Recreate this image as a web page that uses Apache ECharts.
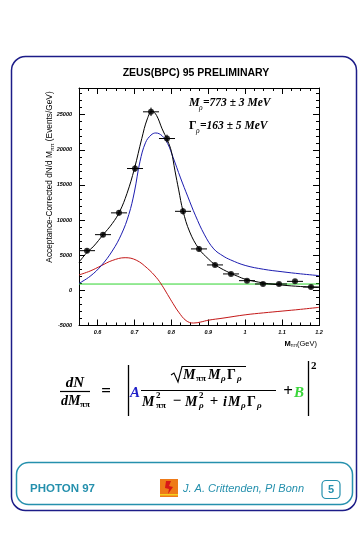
<!DOCTYPE html>
<html>
<head>
<meta charset="utf-8">
<script src="https://cdn.jsdelivr.net/npm/echarts@6.0.0/dist/echarts.min.js"></script>
<style>
html,body{margin:0;padding:0;background:#fff;}
#chart{width:363px;height:535px;}
</style>
</head>
<body>
<div id="chart"></div>
<script>
// ---------------- data ----------------
const massBins = [0.5717, 0.615, 0.6583, 0.7017, 0.745, 0.7883, 0.8317, 0.875, 0.9183, 0.9617, 1.005, 1.0483, 1.0917, 1.135, 1.1783];
const counts   = [5650, 7930, 11030, 17340, 25410, 21610, 11250, 5900, 3620, 2340, 1380, 910, 910, 1280, 480];
const countErr = [300, 350, 400, 500, 600, 550, 450, 350, 300, 250, 250, 250, 250, 250, 250];
const massErr  = [0.0217, 0.0217, 0.0217, 0.0217, 0.0217, 0.0217, 0.0217, 0.0217, 0.0217, 0.0217, 0.0217, 0.0217, 0.0217, 0.0217, 0.0217];

const fitMass  = [0.55, 0.57, 0.59, 0.615, 0.64, 0.66, 0.68, 0.70, 0.72, 0.735, 0.748, 0.76, 0.775, 0.79, 0.80, 0.81, 0.82, 0.8317, 0.85, 0.875, 0.90, 0.92, 0.95, 0.98, 1.00, 1.05, 1.10, 1.15, 1.20];
const fitTotal = [4000, 5300, 6300, 7900, 9500, 11200, 13800, 17300, 21600, 24400, 25500, 24900, 23000, 21300, 19800, 17000, 14300, 11300, 8300, 5900, 4500, 3600, 2700, 2000, 1600, 1050, 750, 550, 400];

const bwMass   = [0.55, 0.58, 0.61, 0.64, 0.665, 0.685, 0.70, 0.715, 0.73, 0.745, 0.758, 0.775, 0.79, 0.805, 0.825, 0.845, 0.865, 0.89, 0.915, 0.94, 0.96, 1.00, 1.05, 1.10, 1.15, 1.20];
const bwValues = [1000, 2000, 3500, 5600, 8000, 10800, 14000, 18300, 21000, 22100, 22400, 22000, 20900, 18900, 16000, 13300, 10700, 7900, 5900, 4900, 4350, 3550, 3000, 2650, 2350, 2100];

const intMass   = [0.55, 0.58, 0.61, 0.64, 0.675, 0.705, 0.735, 0.76, 0.775, 0.79, 0.805, 0.82, 0.84, 0.86, 0.88, 0.90, 0.94, 1.00, 1.05, 1.10, 1.15, 1.20];
const intValues = [2200, 2750, 3500, 4250, 4650, 4300, 3150, 1800, 700, -600, -1900, -3100, -4300, -4650, -4500, -4250, -3950, -3480, -3200, -2950, -2700, -2420];

const bgMass   = [0.55, 1.20];
const bgValues = [900, 900];

const xMajor = [0.6, 0.7, 0.8, 0.9, 1.0, 1.1, 1.2];
const xMinor = [0.55, 0.575, 0.625, 0.65, 0.675, 0.725, 0.75, 0.775, 0.825, 0.85, 0.875, 0.925, 0.95, 0.975, 1.025, 1.05, 1.075, 1.125, 1.15, 1.175];
const yMajor = [-5000, 0, 5000, 10000, 15000, 20000, 25000];
const yMinor = [-4000, -3000, -2000, -1000, 1000, 2000, 3000, 4000, 6000, 7000, 8000, 9000, 11000, 12000, 13000, 14000, 16000, 17000, 18000, 19000, 21000, 22000, 23000, 24000, 26000, 27000, 28000];

const X_MIN = 0.55, X_MAX = 1.2, Y_MIN = -5000, Y_MAX = 28800;

// ---------------- chart ----------------
const chart = echarts.init(document.getElementById('chart'), null, {renderer: 'canvas'});
const pair = (a, b) => a.map((v, i) => [v, b[i]]);

const tickLabel = {fontSize: 5.5, fontWeight: 'bold', fontStyle: 'italic', color: '#000', fontFamily: 'Liberation Sans'};
function xAx(pos, vals, len, line, label) {
  return {
    type: 'value', gridIndex: 0, position: pos, min: X_MIN, max: X_MAX,
    axisLine: {show: line, onZero: false, lineStyle: {color: '#000', width: 1}},
    axisTick: {show: true, inside: true, length: len, customValues: vals, lineStyle: {color: '#000', width: 1}},
    axisLabel: label ? Object.assign({show: true, customValues: vals, margin: 4, formatter: v => String(+v.toFixed(2))}, tickLabel) : {show: false},
    splitLine: {show: false}
  };
}
function yAx(pos, vals, len, line, label) {
  return {
    type: 'value', gridIndex: 0, position: pos, min: Y_MIN, max: Y_MAX,
    axisLine: {show: line, onZero: false, lineStyle: {color: '#000', width: 1}},
    axisTick: {show: true, inside: true, length: len, customValues: vals, lineStyle: {color: '#000', width: 1}},
    axisLabel: label ? Object.assign({show: true, customValues: vals, margin: 7, formatter: v => String(v)}, tickLabel) : {show: false},
    splitLine: {show: false}
  };
}

const serif = 'Liberation Serif';
const sans = 'Liberation Sans';
const teal = '#2590ad';
const fT = (text, x, y, size, opts) => Object.assign({
  type: 'text', x: x, y: y, silent: true,
  style: Object.assign({text: text, fill: '#000', font: 'italic bold ' + size + 'px "' + serif + '"', textAlign: 'left', textVerticalAlign: 'middle'}, (opts && opts.style) || {})
}, opts && opts.el || {});

const graphics = [
  // outer frame
  {type: 'rect', shape: {x: 11.5, y: 56.5, width: 345, height: 454, r: 14}, style: {fill: 'none', stroke: '#1c1c88', lineWidth: 1.5}, silent: true},
  // title
  {type: 'text', x: 196, y: 73, style: {text: 'ZEUS(BPC) 95 PRELIMINARY', font: 'bold 10.5px "' + sans + '"', fill: '#000', textAlign: 'center', textVerticalAlign: 'middle'}},
  // y-axis title
  {type: 'text', x: 50, y: 177, rotation: Math.PI / 2, style: {
    text: '{n|Acceptance-Corrected dN/d M}{s|ππ}{n| (Events/GeV)}', textAlign: 'center', textVerticalAlign: 'middle',
    rich: {n: {font: '8.3px "' + sans + '"', fill: '#000'}, s: {font: '5.5px "' + sans + '"', fill: '#000', padding: [4, 0, 0, 0]}}}},
  // x-axis title
  {type: 'text', x: 317, y: 344, style: {
    text: '{m|M}{s|ππ}{n|(GeV)}', textAlign: 'right', textVerticalAlign: 'middle',
    rich: {m: {font: 'bold 7.5px "' + sans + '"', fill: '#000'}, s: {font: '4.5px "' + sans + '"', fill: '#000', padding: [4, 0, 0, 0]}, n: {font: '7.5px "' + sans + '"', fill: '#000'}}}},
  // annotations
  fT('M', 189, 103, 12),
  fT('ρ', 199, 108, 7.5, {style: {font: 'italic 7.5px "' + serif + '"'}}),
  fT('=773 ± 3 MeV', 203, 103, 11.5),
  fT('Γ', 189, 126, 12, {style: {font: 'bold 12px "' + serif + '"'}}),
  fT('ρ', 196, 131, 7.5, {style: {font: 'italic 7.5px "' + serif + '"'}}),
  fT('=163 ± 5 MeV', 200, 126, 11.5),

  // formula: dN / dMpp
  fT('dN', 75, 383, 15, {style: {textAlign: 'center'}}),
  {type: 'line', shape: {x1: 60, y1: 391.5, x2: 90, y2: 391.5}, style: {stroke: '#000', lineWidth: 1.2}},
  fT('dM', 61, 401, 14),
  fT('ππ', 80, 405, 9, {style: {font: 'bold 9px "' + serif + '"'}}),
  fT('=', 106, 392, 17, {style: {textAlign: 'center', font: 'bold 17px "' + serif + '"'}}),
  // abs bars
  {type: 'line', shape: {x1: 128.5, y1: 365, x2: 128.5, y2: 416}, style: {stroke: '#000', lineWidth: 1.3}},
  {type: 'line', shape: {x1: 308.5, y1: 361, x2: 308.5, y2: 416}, style: {stroke: '#000', lineWidth: 1.3}},
  fT('A', 130, 393, 15, {style: {fill: '#1f1fc8'}}),
  // numerator sqrt
  {type: 'polyline', shape: {points: [[171, 375], [174, 373], [178, 382], [182, 366.5], [246, 366.5]]}, style: {stroke: '#000', lineWidth: 1.1, fill: 'none'}},
  fT('M', 183, 375, 14),
  fT('ππ', 196, 379, 9, {style: {font: 'bold 9px "' + serif + '"'}}),
  fT('M', 208, 375, 14),
  fT('ρ', 221, 379, 9, {style: {font: 'italic bold 9px "' + serif + '"'}}),
  fT('Γ', 227, 375, 14, {style: {font: 'bold 14px "' + serif + '"'}}),
  fT('ρ', 237, 379, 9, {style: {font: 'italic bold 9px "' + serif + '"'}}),
  // main fraction bar
  {type: 'line', shape: {x1: 141, y1: 390.5, x2: 276, y2: 390.5}, style: {stroke: '#000', lineWidth: 1.2}},
  // denominator
  fT('M', 142, 402, 14),
  fT('2', 156, 396, 9, {style: {font: 'bold 9px "' + serif + '"'}}),
  fT('ππ', 156, 406, 9, {style: {font: 'bold 9px "' + serif + '"'}}),
  fT('−', 177, 401, 15, {style: {textAlign: 'center', font: 'bold 15px "' + serif + '"'}}),
  fT('M', 185, 402, 14),
  fT('2', 199, 396, 9, {style: {font: 'bold 9px "' + serif + '"'}}),
  fT('ρ', 199, 406, 9, {style: {font: 'italic bold 9px "' + serif + '"'}}),
  fT('+', 214, 401, 15, {style: {textAlign: 'center', font: 'bold 15px "' + serif + '"'}}),
  fT('i', 223, 402, 14),
  fT('M', 228, 402, 14),
  fT('ρ', 241, 406, 9, {style: {font: 'italic bold 9px "' + serif + '"'}}),
  fT('Γ', 247, 402, 14, {style: {font: 'bold 14px "' + serif + '"'}}),
  fT('ρ', 257, 406, 9, {style: {font: 'italic bold 9px "' + serif + '"'}}),
  fT('+', 288, 392, 17, {style: {textAlign: 'center', font: 'bold 17px "' + serif + '"'}}),
  fT('B', 294, 393, 15, {style: {fill: '#3ad63a'}}),
  fT('2', 311, 366, 11, {style: {font: 'bold 11px "' + serif + '"'}}),

  // footer
  {type: 'rect', shape: {x: 16.5, y: 462.5, width: 336, height: 42, r: 12}, style: {fill: 'none', stroke: teal, lineWidth: 1.5}, silent: true},
  {type: 'text', x: 30, y: 489, style: {text: 'PHOTON 97', font: 'bold 11.5px "' + sans + '"', fill: teal, textAlign: 'left', textVerticalAlign: 'middle'}},
  {type: 'rect', shape: {x: 160, y: 479, width: 18, height: 18}, style: {fill: '#ee7a18'}},
  {type: 'polygon', shape: {points: [[166, 481], [171, 481], [169, 486], [173, 487], [168, 494], [169, 489], [165, 488]]}, style: {fill: '#d81818'}},
  {type: 'rect', shape: {x: 160, y: 494, width: 18, height: 1.5}, style: {fill: '#f5d020'}},
  {type: 'text', x: 183, y: 489, style: {text: 'J. A. Crittenden, PI Bonn', font: 'italic 11px "' + sans + '"', fill: teal, textAlign: 'left', textVerticalAlign: 'middle'}},
  {type: 'rect', shape: {x: 322, y: 480.5, width: 18, height: 18, r: 4}, style: {fill: 'none', stroke: teal, lineWidth: 1.2}},
  {type: 'text', x: 331, y: 490, style: {text: '5', font: 'bold 11px "' + sans + '"', fill: teal, textAlign: 'center', textVerticalAlign: 'middle'}}
];

const option = {
  animation: false,
  backgroundColor: '#fff',
  grid: {left: 79, top: 88, width: 240, height: 237.5, containLabel: false},
  xAxis: [
    xAx('bottom', xMajor, 6, true, true),
    xAx('bottom', xMinor, 3, false, false),
    xAx('top', xMajor, 6, true, false),
    xAx('top', xMinor, 3, false, false)
  ],
  yAxis: [
    yAx('left', yMajor, 6, true, true),
    yAx('left', yMinor, 3, false, false),
    yAx('right', yMajor, 6, true, false),
    yAx('right', yMinor, 3, false, false)
  ],
  series: [
    {type: 'line', data: pair(bgMass, bgValues), showSymbol: false, lineStyle: {color: '#2ed42e', width: 1}, z: 2},
    {type: 'line', data: pair(intMass, intValues), smooth: 0.4, showSymbol: false, lineStyle: {color: '#c41818', width: 1}, z: 3},
    {type: 'line', data: pair(bwMass, bwValues), smooth: 0.4, showSymbol: false, lineStyle: {color: '#1c1cb0', width: 1}, z: 3},
    {type: 'line', data: pair(fitMass, fitTotal), smooth: 0.4, showSymbol: false, lineStyle: {color: '#000', width: 1}, z: 4},
    {type: 'custom', z: 5, clip: false,
     data: massBins.map((m, i) => [m, counts[i], massErr[i], countErr[i]]),
     encode: {x: 0, y: 1},
     renderItem: function (params, api) {
       const x = api.value(0), y = api.value(1), ex = api.value(2), ey = api.value(3);
       const a = api.coord([x - ex, y]), b = api.coord([x + ex, y]);
       const c = api.coord([x, y - ey]), d = api.coord([x, y + ey]);
       return {type: 'group', children: [
         {type: 'line', shape: {x1: a[0], y1: a[1], x2: b[0], y2: b[1]}, style: {stroke: '#000', lineWidth: 1}},
         {type: 'line', shape: {x1: c[0], y1: c[1], x2: d[0], y2: d[1]}, style: {stroke: '#000', lineWidth: 1}}
       ]};
     }},
    {type: 'scatter', data: pair(massBins, counts), symbol: 'circle', symbolSize: 6, itemStyle: {color: '#000'}, z: 6}
  ],
  graphic: graphics
};
chart.setOption(option);
</script>
</body>
</html>
